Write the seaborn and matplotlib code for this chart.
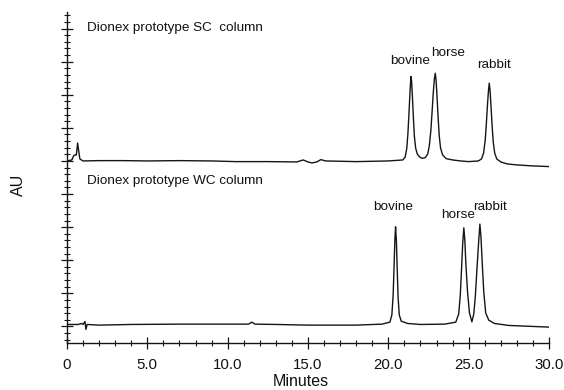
import numpy as np
import pandas as pd
import matplotlib
matplotlib.use("Agg")
import matplotlib.pyplot as plt
import seaborn as sns
from matplotlib.ticker import MultipleLocator, FixedLocator

# ---- data (time in minutes, signal in arbitrary AU) ----
sc_time = [0.0, 0.3, 0.42, 0.5, 0.58, 0.66, 0.72, 0.8, 1.0, 2.0, 3.5, 5.0, 7.0, 9.0,
           10.5, 12.5, 14.3, 14.7, 15.0, 15.25, 15.55, 15.8, 16.1, 18.0, 20.0, 20.9,
           21.05, 21.15, 21.22, 21.28, 21.34, 21.38, 21.41, 21.45, 21.50, 21.56, 21.62,
           21.70, 21.80, 21.95, 22.1, 22.3, 22.45, 22.55, 22.65, 22.73, 22.80, 22.86,
           22.92, 22.97, 23.03, 23.10, 23.17, 23.25, 23.38, 23.6, 24.0, 24.5, 25.0,
           25.6, 25.8, 25.93, 26.03, 26.10, 26.17, 26.23, 26.28, 26.33, 26.39, 26.46,
           26.53, 26.62, 26.75, 27.0, 27.4, 28.0, 29.0, 30.0]
sc_signal = [55.0, 55.3, 56.6, 56.8, 56.8, 60.4, 58.3, 55.6, 55.0, 55.1, 55.1, 55.0, 55.1, 55.0,
             54.8, 54.8, 54.7, 55.3, 54.7, 54.4, 54.7, 55.4, 55.0, 54.8, 55.0, 55.3,
             56.2, 58.9, 63.4, 68.9, 74.9, 78.5, 80.5, 78.9, 74.3, 68.0, 62.5,
             58.9, 57.1, 56.2, 55.8, 56.0, 57.1, 59.5, 64.4, 70.4, 75.8, 79.5,
             81.5, 79.5, 74.6, 68.0, 62.5, 58.9, 56.8, 55.7, 55.3, 55.0, 54.8,
             55.0, 55.6, 57.4, 61.3, 66.2, 71.9, 76.1, 78.5, 76.4, 71.6, 65.6,
             60.7, 57.4, 55.6, 54.7, 54.1, 53.8, 53.5, 53.3]

wc_time = [0.0, 0.7, 0.9, 1.0, 1.12, 1.18, 1.25, 2.0, 4.0, 7.0, 10.0, 11.3, 11.5, 11.7,
           13.0, 15.0, 18.0, 19.6, 20.1, 20.22, 20.30, 20.36, 20.41, 20.45, 20.50, 20.55,
           20.61, 20.68, 20.8, 21.2, 22.0, 23.5, 24.2, 24.38, 24.48, 24.56, 24.63, 24.70,
           24.76, 24.83, 24.93, 25.05, 25.2, 25.32, 25.42, 25.52, 25.62, 25.70, 25.77,
           25.85, 25.94, 26.06, 26.25, 26.6, 27.5, 29.0, 30.0]
wc_signal = [5.6, 5.6, 5.9, 5.6, 6.5, 4.1, 5.6, 5.4, 5.6, 5.7, 5.7, 5.7, 6.3, 5.7,
             5.6, 5.4, 5.4, 5.7, 6.3, 8.5, 14.5, 23.6, 31.6, 35.1, 31.1, 22.7,
             13.6, 8.5, 6.6, 5.9, 5.6, 5.7, 6.3, 8.8, 14.5, 22.7, 30.2, 34.8,
             31.1, 23.6, 15.4, 9.1, 6.4, 8.8, 14.5, 22.7, 30.5, 35.9, 31.7,
             23.6, 15.4, 9.1, 6.9, 5.9, 5.3, 5.0, 4.8]

peak_names = ["bovine", "horse", "rabbit"]
sc_label_x = [21.34, 23.71, 26.57]
sc_label_y = [85.2, 87.6, 84.0]
wc_label_x = [20.29, 24.33, 26.32]
wc_label_y = [41.1, 38.7, 41.1]

x_ticks = [0, 5, 10, 15, 20, 25, 30]
x_tick_labels = ["0", "5.0", "10.0", "15.0", "20.0", "25.0", "30.0"]

sc_df = pd.DataFrame({"Minutes": sc_time, "AU": sc_signal})
wc_df = pd.DataFrame({"Minutes": wc_time, "AU": wc_signal})

sns.set_style("ticks")
plt.rcParams["font.family"] = ["Liberation Sans", "DejaVu Sans"]

fig = plt.figure(figsize=(5.64, 3.90), dpi=100)
ax = fig.add_axes([67 / 564, 47 / 390, 482 / 564, 331 / 390])

line_kw = dict(color="#151515", linewidth=1.0, ax=ax, legend=False, estimator=None, sort=False)
sns.lineplot(data=sc_df, x="Minutes", y="AU", **line_kw)
sns.lineplot(data=wc_df, x="Minutes", y="AU", **line_kw)

ax.set_xlim(0, 30)
ax.set_ylim(0, 100)
ax.set_xlabel("")
ax.set_ylabel("")

ax.xaxis.set_major_locator(FixedLocator(x_ticks))
ax.set_xticklabels(x_tick_labels)
ax.xaxis.set_minor_locator(MultipleLocator(1))
ax.yaxis.set_major_locator(FixedLocator(np.arange(5, 100, 10)))
ax.yaxis.set_minor_locator(FixedLocator(np.arange(1, 100, 2)))
ax.set_yticklabels([])

ax.tick_params(axis="both", which="major", direction="inout", length=8, width=0.9,
               color="#151515")
ax.tick_params(axis="both", which="minor", direction="inout", length=4.5, width=0.8,
               color="#151515")
ax.tick_params(axis="x", which="major", labelsize=10.8, pad=6.5, labelcolor="#111111")

for side in ["top", "right"]:
    ax.spines[side].set_visible(False)
for side in ["left", "bottom"]:
    ax.spines[side].set_linewidth(1.0)
    ax.spines[side].set_color("#151515")

txt = dict(fontsize=9.7, color="#111111")
ax.text(1.23, 95.2, "Dionex prototype SC  column", ha="left", va="center", **txt)
ax.text(1.23, 48.9, "Dionex prototype WC column", ha="left", va="center", **txt)
for name, x, y in zip(peak_names, sc_label_x, sc_label_y):
    ax.text(x, y, name, ha="center", va="center", **txt)
for name, x, y in zip(peak_names, wc_label_x, wc_label_y):
    ax.text(x, y, name, ha="center", va="center", **txt)

fig.text(18 / 564, 1 - 185 / 390, "AU", rotation=90, ha="center", va="center",
         fontsize=11.5, color="#111111")
fig.text(301 / 564, 1 - 381 / 390, "Minutes", ha="center", va="center",
         fontsize=11.5, color="#111111")

fig.savefig("out.png", dpi=100, facecolor="white")
